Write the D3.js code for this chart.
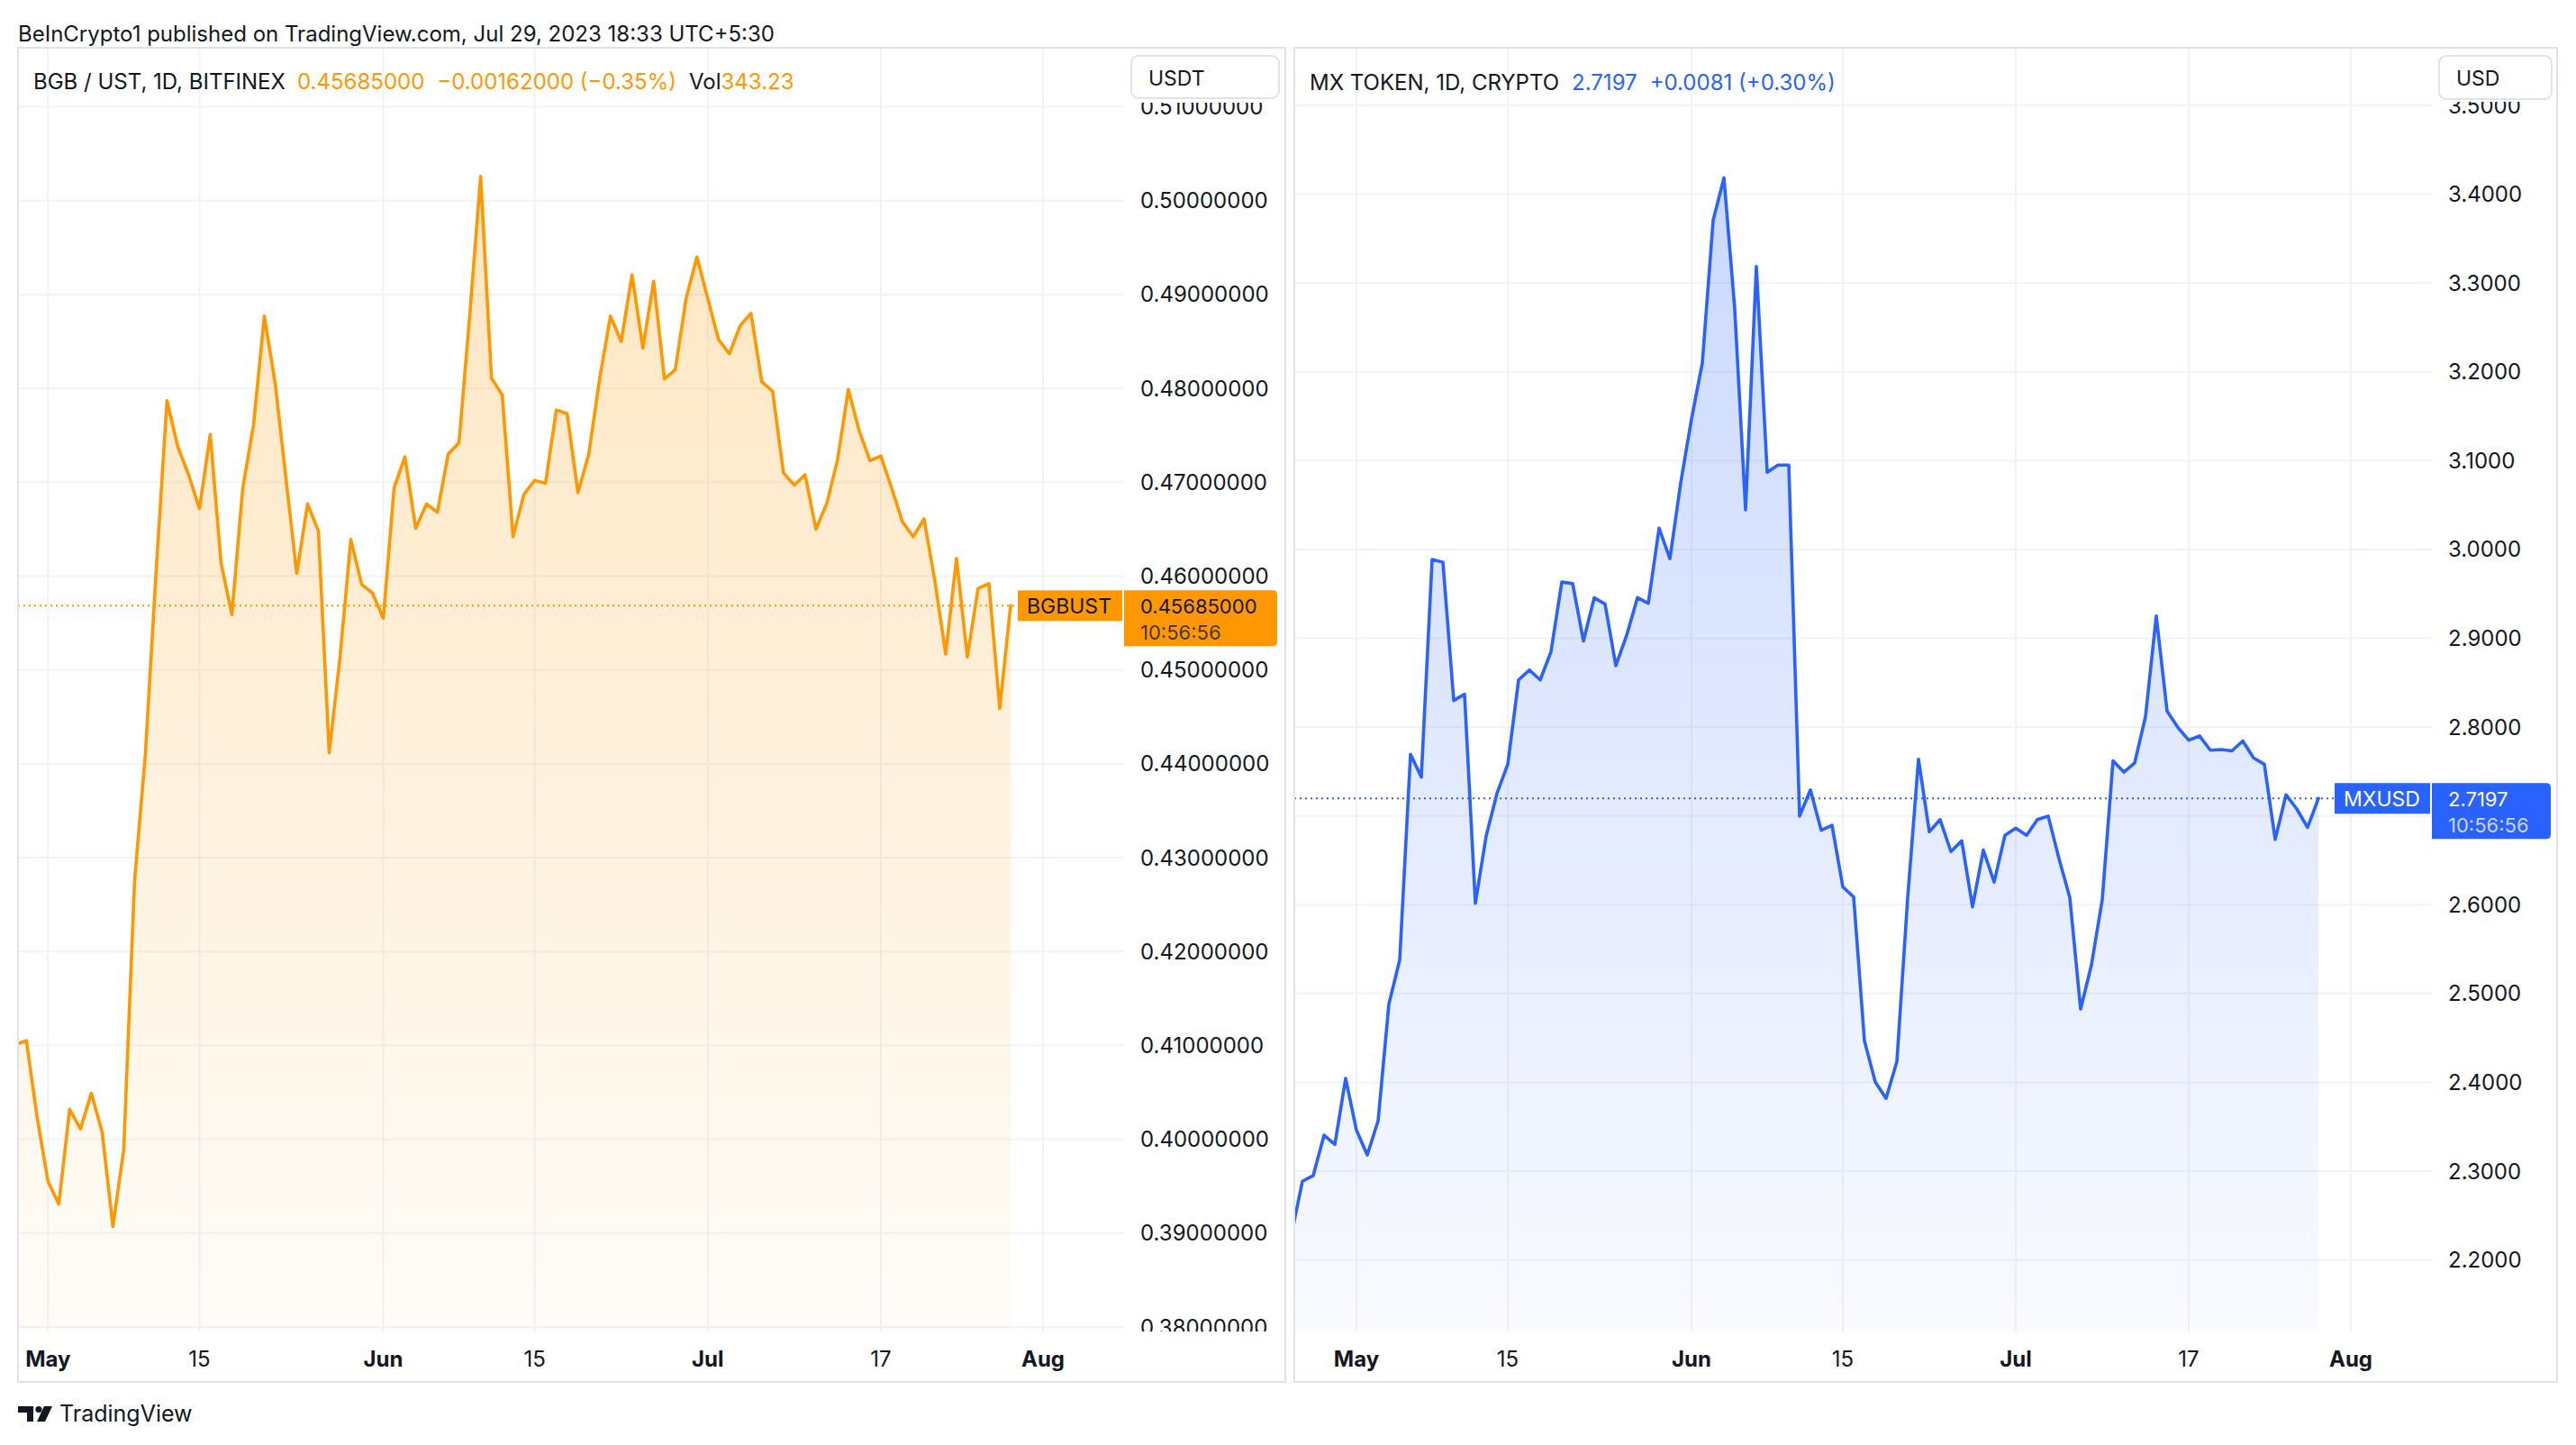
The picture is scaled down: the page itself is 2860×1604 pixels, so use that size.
<!DOCTYPE html>
<html><head><meta charset="utf-8">
<script src="https://cdn.jsdelivr.net/npm/d3@7"></script>
<style>
html,body{margin:0;padding:0;background:#fff;}
svg{display:block;}
text{font-family:Inter,"Noto Sans",sans-serif;}
</style></head><body>
<svg id="chart" width="2860" height="1604"></svg>
<script>
// ---------------- DATA ----------------
const titleText = "BeInCrypto1 published on TradingView.com, Jul 29, 2023 18:33 UTC+5:30";

const bgbStart = "2023-04-28";
const bgbValues = [
  0.4101,0.4105,0.4023,
  0.3955,0.3931,0.4032,0.4011,0.4049,0.4008,0.3907,0.3989,0.4275,0.4410,
  0.4606,0.4787,0.4738,0.4708,0.4672,0.4751,0.4614,0.4559,0.4693,0.4761,
  0.4877,0.4806,0.4704,0.4603,0.4677,0.4648,0.4412,0.4514,0.4639,0.4591,
  0.4582,0.4555,0.4694,0.4727,0.4651,0.4677,0.4668,0.4730,0.4742,0.4879,
  0.5026,0.4811,0.4793,0.4642,0.4687,0.4702,0.4699,0.4777,0.4773,0.4689,
  0.4730,0.4810,0.4877,0.4850,0.4921,0.4843,0.4914,0.4810,0.4820,0.4896,
  0.4940,0.4896,0.4852,0.4837,0.4867,0.4880,0.4807,0.4797,0.4710,0.4697,
  0.4708,0.4650,0.4677,0.4724,0.4799,0.4755,0.4723,0.4728,0.4694,0.4658,
  0.4642,0.4661,0.4595,0.4517,0.4619,0.4514,0.4587,0.4592,0.4459,0.45685
];

const mxStart = "2023-04-25";
const mxValues = [
  2.2295,2.2886,2.2950,2.3405,2.3301,2.4044,
  2.3461,2.3182,2.3565,2.4882,2.5377,2.7693,2.7437,2.9888,2.9856,2.8299,
  2.8371,2.6016,2.6774,2.7253,2.7581,2.8531,2.8643,2.8531,2.8850,2.9633,
  2.9617,2.8970,2.9457,2.9385,2.8691,2.9034,2.9457,2.9393,3.0240,2.9896,
  3.0750,3.1469,3.2100,3.3705,3.4184,3.2707,3.0447,3.3186,3.0870,3.0950,
  3.0950,2.6998,2.7293,2.6838,2.6894,2.6200,2.6088,2.4467,2.4004,2.3820,
  2.4235,2.6080,2.7637,2.6822,2.6958,2.6599,2.6719,2.5976,2.6615,2.6255,
  2.6782,2.6862,2.6782,2.6958,2.6998,2.6519,2.6080,2.4826,2.5321,2.6056,
  2.7621,2.7493,2.7597,2.8116,2.9250,2.8180,2.7996,2.7852,2.7900,2.7740,
  2.7748,2.7732,2.7844,2.7653,2.7581,2.6735,2.7238,2.7078,2.6870,2.7197
];

const timeTickDates = ["2023-05-01","2023-05-15","2023-06-01","2023-06-15","2023-07-01","2023-07-17","2023-08-01"];
const timeTickLabels = ["May","15","Jun","15","Jul","17","Aug"];
const timeTickIsMonth = [true,false,true,false,true,false,true];

const bgbPriceTicks = [0.38,0.39,0.40,0.41,0.42,0.43,0.44,0.45,0.46,0.47,0.48,0.49,0.50,0.51];
const mxPriceTicks = [2.2,2.3,2.4,2.5,2.6,2.7,2.8,2.9,3.0,3.1,3.2,3.3,3.4,3.5];

const bgbLegend = ["BGB / UST, 1D, BITFINEX", "0.45685000", "\u22120.00162000 (\u22120.35%)", "Vol", "343.23"];
const mxLegend = ["MX TOKEN, 1D, CRYPTO", "2.7197", "+0.0081 (+0.30%)"];
const bgbCurrency = "USDT", mxCurrency = "USD";
const bgbSymbol = "BGBUST", mxSymbol = "MXUSD";
const countdownText = "10:56:56";
const footerText = "TradingView";

// ---------------- DRAW ----------------
const parse = d3.timeParse("%Y-%m-%d");
const svg = d3.select("#chart");
const defs = svg.append("defs");
const TEXT = "#131722";
const GRID = "#F0F3FA";
const BORDER = "#E0E3EB";

svg.append("rect").attr("width",2860).attr("height",1604).attr("fill","#fff");

svg.append("text").attr("x",20).attr("y",37).attr("dominant-baseline","central")
  .attr("font-size",24).attr("fill",TEXT).text(titleText);

function seriesFrom(start, values){
  const s = parse(start);
  return values.map((v,i)=>({date:d3.timeDay.offset(s,i), value:v}));
}

function drawPane(cfg){
  const g = svg.append("g");
  const x = d3.scaleTime().domain([parse("2023-05-01"), parse("2023-08-01")]).range(cfg.xRange);
  const y = d3.scaleLinear().domain(cfg.yDomain).range(cfg.yRange);
  const data = seriesFrom(cfg.start, cfg.values);
  const last = data[data.length-1];
  const py = y(last.value);
  const by0 = py-17, by1 = py+45;

  // clip paths
  defs.append("clipPath").attr("id",cfg.id+"-plot").append("rect")
    .attr("x",cfg.left).attr("y",cfg.top).attr("width",cfg.plotRight-cfg.left).attr("height",cfg.plotBottom-cfg.top);
  defs.append("clipPath").attr("id",cfg.id+"-axis").append("rect")
    .attr("x",cfg.plotRight).attr("y",cfg.axisClipTop).attr("width",cfg.right-cfg.plotRight).attr("height",cfg.plotBottom-cfg.axisClipTop);

  // gradient
  const grad = defs.append("linearGradient").attr("id",cfg.id+"-grad")
    .attr("gradientUnits","userSpaceOnUse").attr("x1",0).attr("x2",0).attr("y1",cfg.top).attr("y2",cfg.plotBottom);
  grad.append("stop").attr("offset",0).attr("stop-color",cfg.color).attr("stop-opacity",0.27);
  grad.append("stop").attr("offset",1).attr("stop-color",cfg.color).attr("stop-opacity",0.03);

  // grid
  const grid = g.append("g");
  grid.selectAll("line.h").data(cfg.ticks).join("line")
    .attr("x1",cfg.left).attr("x2",cfg.plotRight)
    .attr("y1",d=>y(d)).attr("y2",d=>y(d))
    .attr("stroke",GRID).attr("stroke-width",2);
  const tdates = timeTickDates.map(parse);
  grid.selectAll("line.v").data(tdates).join("line")
    .attr("x1",d=>x(d)).attr("x2",d=>x(d))
    .attr("y1",cfg.top).attr("y2",cfg.plotBottom)
    .attr("stroke",GRID).attr("stroke-width",2);

  // series
  const plot = g.append("g").attr("clip-path",`url(#${cfg.id}-plot)`);
  const area = d3.area().x(d=>x(d.date)).y0(cfg.plotBottom).y1(d=>y(d.value));
  const line = d3.line().x(d=>x(d.date)).y(d=>y(d.value));
  plot.append("path").datum(data).attr("d",area).attr("fill",`url(#${cfg.id}-grad)`);
  plot.append("path").datum(data).attr("d",line).attr("fill","none")
    .attr("stroke",cfg.color).attr("stroke-width",3.6).attr("stroke-linejoin","round").attr("stroke-linecap","round");

  // dotted price line
  plot.append("line").attr("x1",cfg.left).attr("x2",cfg.symbolLeft).attr("y1",py).attr("y2",py)
    .attr("stroke",cfg.color).attr("stroke-width",2).attr("stroke-dasharray","2,4");

  // price axis labels (labels hidden under the last-price box are skipped, as on the reference)
  const visibleTicks = cfg.ticks.filter(t => y(t) + 12 < by0 || y(t) - 12 > by1);
  g.append("g").attr("clip-path",`url(#${cfg.id}-axis)`)
    .selectAll("text").data(visibleTicks).join("text")
    .attr("x",cfg.axisTextX).attr("y",d=>y(d)).attr("dominant-baseline","central")
    .attr("font-size",24).attr("fill",TEXT).text(d=>cfg.fmt(d));

  // time labels
  g.selectAll("text.t").data(tdates).join("text")
    .attr("x",d=>x(d)).attr("y",1508).attr("text-anchor","middle").attr("dominant-baseline","central")
    .attr("font-size",24).attr("font-weight",(d,i)=>timeTickIsMonth[i]?700:400)
    .attr("fill",TEXT).text((d,i)=>timeTickLabels[i]);

  // frame
  g.append("rect").attr("x",cfg.left).attr("y",cfg.top).attr("width",cfg.right-cfg.left).attr("height",cfg.bottom-cfg.top)
    .attr("fill","none").attr("stroke",BORDER).attr("stroke-width",2);

  // currency box
  const cb = cfg.currencyBox;
  g.append("rect").attr("x",cb[0]).attr("y",cb[1]).attr("width",cb[2]).attr("height",cb[3]).attr("rx",8)
    .attr("fill","#fff").attr("stroke",BORDER).attr("stroke-width",2);
  g.append("text").attr("x",cb[0]+19).attr("y",cb[1]+cb[3]/2+1).attr("dominant-baseline","central")
    .attr("font-size",23).attr("fill",TEXT).text(cfg.currency);

  // legend
  const lt = g.append("text").attr("x",cfg.legendX).attr("y",cfg.legendY).attr("dominant-baseline","central")
    .attr("font-size",24);
  cfg.legend.forEach((s,i)=>{
    lt.append("tspan").attr("dx", i===0?0:(cfg.legendGlue[i]?0:14))
      .attr("fill", cfg.legendColors[i]).text(s);
  });

  // symbol label
  g.append("rect").attr("x",cfg.symbolLeft).attr("y",by0).attr("width",cfg.plotRight-2-cfg.symbolLeft).attr("height",34)
    .attr("fill",cfg.color);
  g.append("text").attr("x",cfg.symbolLeft+10).attr("y",py+1).attr("dominant-baseline","central")
    .attr("font-size",23).attr("fill",cfg.labelText).text(cfg.symbol);

  // price box
  const bx0 = cfg.plotRight, bx1 = cfg.priceBoxRight, r = 5;
  g.append("path").attr("d",`M${bx0},${by0} H${bx1-r} Q${bx1},${by0} ${bx1},${by0+r} V${by1-r} Q${bx1},${by1} ${bx1-r},${by1} H${bx0} Z`)
    .attr("fill",cfg.color);
  g.append("text").attr("x",cfg.axisTextX).attr("y",py+1).attr("dominant-baseline","central")
    .attr("font-size",22).attr("fill",cfg.labelText).text(cfg.fmt(last.value));
  g.append("text").attr("x",cfg.axisTextX).attr("y",py+30).attr("dominant-baseline","central")
    .attr("font-size",22).attr("fill",cfg.countText).text(countdownText);
}

drawPane({
  id:"bgb", left:20, right:1427, plotRight:1248, top:53, plotBottom:1478, bottom:1534, axisClipTop:114,
  xRange:[53.3,1158], yDomain:[0.38,0.51], yRange:[1473,118.6],
  color:"#FF9800", start:bgbStart, values:bgbValues, ticks:bgbPriceTicks, fmt:d3.format(".8f"),
  axisTextX:1266, currency:bgbCurrency, currencyBox:[1256,62,164,47],
  legend:bgbLegend, legendColors:[TEXT,"#FF9800","#FF9800",TEXT,"#FF9800"], legendGlue:[false,false,false,false,true],
  legendX:37, legendY:90,
  symbol:bgbSymbol, symbolLeft:1130, priceBoxRight:1418, labelText:TEXT, countText:"rgba(19,23,34,0.8)"
});

drawPane({
  id:"mx", left:1437, right:2839, plotRight:2700, top:53, plotBottom:1478, bottom:1534, axisClipTop:113,
  xRange:[1506,2610], yDomain:[2.2,3.5], yRange:[1398.6,117],
  color:"#2962FF", start:mxStart, values:mxValues, ticks:mxPriceTicks, fmt:d3.format(".4f"),
  axisTextX:2718, currency:mxCurrency, currencyBox:[2708,62,125,48],
  legend:mxLegend, legendColors:[TEXT,"#2962FF","#2962FF"], legendGlue:[false,false,false],
  legendX:1454, legendY:91,
  symbol:mxSymbol, symbolLeft:2592, priceBoxRight:2832, labelText:"#fff", countText:"rgba(255,255,255,0.75)"
});

// footer logo
const logo = svg.append("g").attr("fill",TEXT);
logo.append("path").attr("d","M20,1561 H37 V1578 H30 V1568 H20 Z");
logo.append("circle").attr("cx",43).attr("cy",1564.5).attr("r",3.6);
logo.append("path").attr("d","M49,1561 H58 L50,1578 H41 Z");
svg.append("text").attr("x",66).attr("y",1569).attr("dominant-baseline","central")
  .attr("font-size",25).attr("fill",TEXT).text(footerText);
</script>
</body></html>
